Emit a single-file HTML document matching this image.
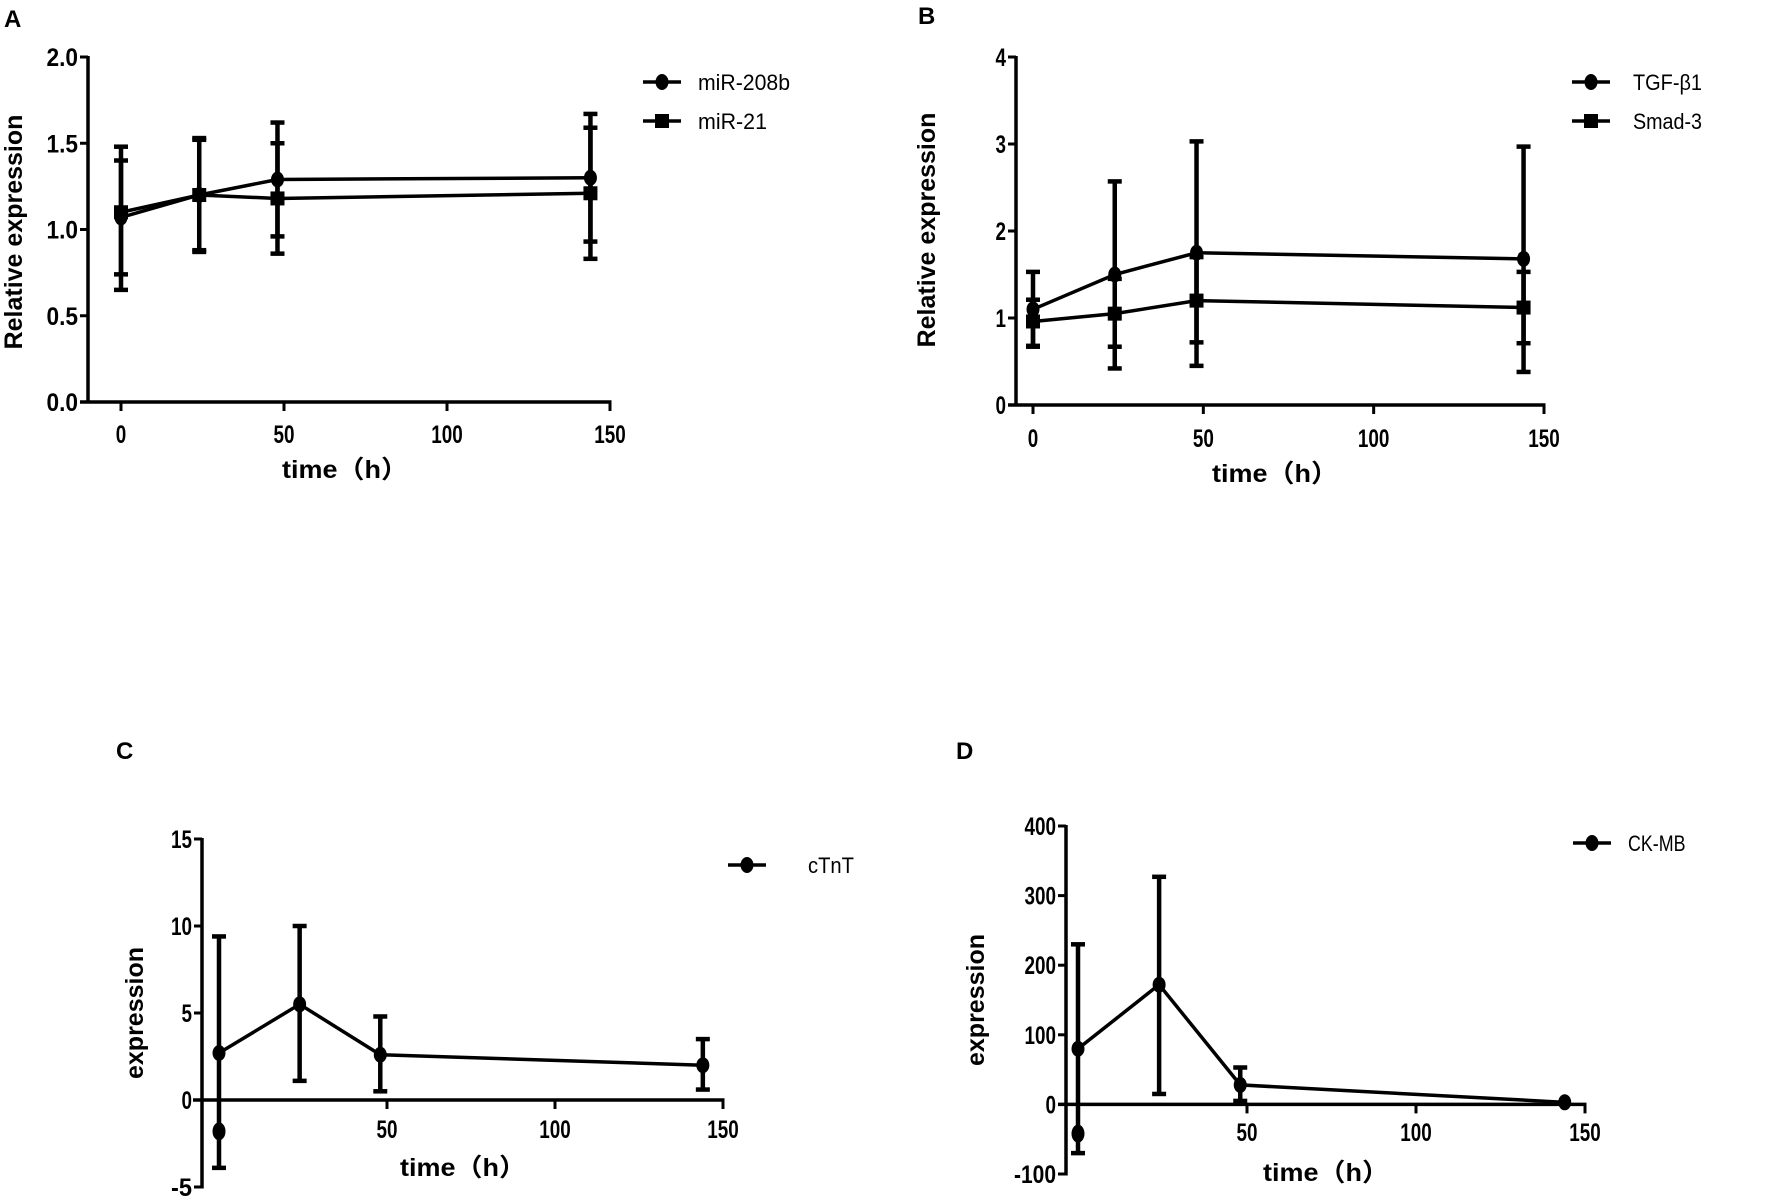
<!DOCTYPE html>
<html><head><meta charset="utf-8"><style>
html,body{margin:0;padding:0;background:#fff;}
svg{display:block;font-family:"Liberation Sans",Arial,sans-serif;}
</style></head><body>
<svg id="fig" width="1772" height="1198" viewBox="0 0 1772 1198"></svg>
<script>
// Panel A data
const timesA = [0, 24, 48, 144];
const mir208b = [1.07, 1.20, 1.29, 1.30];
const mir208bLo = [0.74, 0.88, 0.96, 0.93];
const mir208bHi = [1.40, 1.52, 1.62, 1.67];
const mir21 = [1.10, 1.20, 1.18, 1.21];
const mir21Lo = [0.65, 0.87, 0.86, 0.83];
const mir21Hi = [1.48, 1.53, 1.50, 1.59];
const ticksA = ["0.0","0.5","1.0","1.5","2.0"];
const tickValsA = [0, 0.5, 1.0, 1.5, 2.0];
// Panel B data
const timesB = [0, 24, 48, 144];
const tgfb1 = [1.10, 1.50, 1.75, 1.68];
const tgfb1Lo = [0.67, 0.42, 0.45, 0.38];
const tgfb1Hi = [1.53, 2.57, 3.03, 2.97];
const smad3 = [0.96, 1.05, 1.20, 1.12];
const smad3Lo = [0.68, 0.67, 0.72, 0.71];
const smad3Hi = [1.21, 1.45, 1.70, 1.53];
const tickValsB = [0, 1, 2, 3, 4];
// Panel C data
const timesC = [0, 24, 48, 144];
const ctnt = [2.7, 5.5, 2.6, 2.0];
const ctntLo = [-3.9, 1.1, 0.5, 0.6];
const ctntHi = [9.4, 10.0, 4.8, 3.5];
const ctntExtraX = [0];
const ctntExtraY = [-1.8];
const tickValsC = [-5, 0, 5, 10, 15];
// Panel D data
const timesD = [0, 24, 48, 144];
const ckmb = [80, 172, 28, 3];
const ckmbLo = [-70, 15, 5, 3];
const ckmbHi = [230, 327, 53, 3];
const ckmbExtraX = [0];
const ckmbExtraY = [-42];
const tickValsD = [-100, 0, 100, 200, 300, 400];
const xTickVals = [0, 50, 100, 150];

const NS = "http://www.w3.org/2000/svg";
const svg = document.getElementById("fig");
function mk(tag, attrs, parent) {
  const e = document.createElementNS(NS, tag);
  for (const k in attrs) e.setAttribute(k, attrs[k]);
  (parent || svg).appendChild(e);
  return e;
}
function txt(s, attrs, parent) { const e = mk("text", attrs, parent); e.textContent = s; return e; }

function panel(cfg) {
  const g = mk("g", {});
  
  
  const sx = v => cfg.x0 + (v - 0) * (cfg.x150 - cfg.x0) / 150;
  const sy = v => cfg.yBot + (v - cfg.yMin) * (cfg.yTop - cfg.yBot) / (cfg.yMax - cfg.yMin);
  const L = txt(cfg.letter, {x: cfg.lx, y: cfg.ly, "font-size": 24, "font-weight": "bold"}, g);
  
  
  const ya = mk("line", {x1: cfg.ax, x2: cfg.ax, y1: sy(cfg.yMax) - 1, y2: sy(cfg.yMin) + 1.5, stroke: "#000", "stroke-width": 3.5}, g);
  
  
  cfg.yTicks.forEach((v, i) => {
    const y = sy(v);
    mk("line", {x1: cfg.ax - 8, x2: cfg.ax, y1: y, y2: y, stroke: "#000", "stroke-width": 3}, g);
    const lab = cfg.yLabels ? cfg.yLabels[i] : String(v);
    const t = txt(lab, {x: cfg.ax - 10, y: y + 9, "font-size": 25, "font-weight": "bold", "text-anchor": "end", textLength: lab.length * 10.5, lengthAdjust: "spacingAndGlyphs"}, g);
    
    
  });
  const xy = sy(cfg.xAxisAt);
  const xa = mk("line", {x1: cfg.xaStart, x2: cfg.x150 + 1.5, y1: xy, y2: xy, stroke: "#000", "stroke-width": 3.5}, g);
  
  
  xTickVals.forEach(v => {
    if (cfg.skipZeroX && v === 0) return;
    const x = sx(v);
    mk("line", {x1: x, x2: x, y1: xy, y2: xy + 9, stroke: "#000", "stroke-width": 3}, g);
    const lab = String(v);
    const t = txt(lab, {x: x, y: cfg.xTickY, "font-size": 25, "font-weight": "bold", "text-anchor": "middle", textLength: lab.length * 10.5, lengthAdjust: "spacingAndGlyphs"}, g);
    
    
  });
  const xt = txt("time（h）", {x: cfg.xlx, y: cfg.xly, "font-size": 25, "font-weight": "bold", "text-anchor": "middle", textLength: 126, lengthAdjust: "spacingAndGlyphs", "font-family": "'Liberation Sans','Noto Sans CJK SC',sans-serif"}, g);
  
  
  const yt = txt(cfg.ylabel, {x: 0, y: 0, "font-size": 25, "font-weight": "bold", "text-anchor": "middle", transform: `translate(${cfg.ylx},${cfg.yly}) rotate(-90)`}, g);
  
  
  cfg.series.forEach((s, si) => {
    const sg = mk("g", {}, g);
    
    
    const pts = s.t.map((t, i) => sx(t) + "," + sy(s.v[i])).join(" ");
    mk("polyline", {points: pts, fill: "none", stroke: "#000", "stroke-width": 3.5}, sg);
    s.t.forEach((t, i) => {
      const x = sx(t);
      if (s.hi[i] !== s.v[i] || s.lo[i] !== s.v[i]) {
        const eb = mk("line", {x1: x, x2: x, y1: sy(s.hi[i]), y2: sy(s.lo[i]), stroke: "#000", "stroke-width": 4.5}, sg);
        
        
        [s.hi[i], s.lo[i]].forEach(c => mk("line", {x1: x - 7, x2: x + 7, y1: sy(c), y2: sy(c), stroke: "#000", "stroke-width": 4.5}, sg));
      }
      let m;
      if (s.shape === "square") m = mk("rect", {x: x - 7, y: sy(s.v[i]) - 7, width: 14, height: 14, fill: "#000"}, sg);
      else m = mk("ellipse", {cx: x, cy: sy(s.v[i]), rx: 6.5, ry: 8, fill: "#000"}, sg);
      
      
    });
    if (s.ex) s.ex.forEach((t, i) => {
      const m = mk("ellipse", {cx: sx(t), cy: sy(s.ey[i]), rx: 6.5, ry: 9, fill: "#000"}, sg);
      
      
    });
    const ly = cfg.legY[si];
    const lg = mk("g", {}, g);
    
    
    mk("line", {x1: cfg.legX - 19, x2: cfg.legX + 19, y1: ly, y2: ly, stroke: "#000", "stroke-width": 3.5}, lg);
    if (s.shape === "square") mk("rect", {x: cfg.legX - 7, y: ly - 7, width: 14, height: 14, fill: "#000"}, lg);
    else mk("ellipse", {cx: cfg.legX, cy: ly, rx: 6.5, ry: 8, fill: "#000"}, lg);
    txt(s.label, {x: cfg.legTx, y: ly + 8, "font-size": 22, textLength: s.label.length * 11.5, lengthAdjust: "spacingAndGlyphs"}, lg);
  });
}

panel({name: "panel-a", letter: "A", lx: 4, ly: 27, ax: 88, x0: 121, x150: 610, yMin: 0, yMax: 2, yBot: 402, yTop: 57,
  yTicks: tickValsA, yLabels: ticksA, xAxisAt: 0, xaStart: 80, xTickY: 443, xlx: 345, xly: 478, ylabel: "Relative expression", ylx: 22, yly: 232,
  legX: 662, legTx: 698, legY: [82, 121],
  series: [{label: "miR-208b", shape: "circle", t: timesA, v: mir208b, lo: mir208bLo, hi: mir208bHi},
           {label: "miR-21", shape: "square", t: timesA, v: mir21, lo: mir21Lo, hi: mir21Hi}]});
panel({name: "panel-b", letter: "B", lx: 918, ly: 24, ax: 1016, x0: 1033, x150: 1544, yMin: 0, yMax: 4, yBot: 405, yTop: 57,
  yTicks: tickValsB, xAxisAt: 0, xaStart: 1008, xTickY: 447, xlx: 1275, xly: 482, ylabel: "Relative expression", ylx: 935, yly: 230,
  legX: 1591, legTx: 1633, legY: [82, 121],
  series: [{label: "TGF-β1", shape: "circle", t: timesB, v: tgfb1, lo: tgfb1Lo, hi: tgfb1Hi},
           {label: "Smad-3", shape: "square", t: timesB, v: smad3, lo: smad3Lo, hi: smad3Hi}]});
panel({name: "panel-c", letter: "C", lx: 116, ly: 759, ax: 202, x0: 219, x150: 723, yMin: -5, yMax: 15, yBot: 1187, yTop: 839,
  yTicks: tickValsC, xAxisAt: 0, xaStart: 193, skipZeroX: true, xTickY: 1138, xlx: 463, xly: 1176, ylabel: "expression", ylx: 143, yly: 1013,
  legX: 747, legTx: 808, legY: [865],
  series: [{label: "cTnT", shape: "circle", t: timesC, v: ctnt, lo: ctntLo, hi: ctntHi, ex: ctntExtraX, ey: ctntExtraY}]});
panel({name: "panel-d", letter: "D", lx: 956, ly: 759, ax: 1066, x0: 1078, x150: 1585, yMin: -100, yMax: 400, yBot: 1174, yTop: 826,
  yTicks: tickValsD, xAxisAt: 0, xaStart: 1058, skipZeroX: true, xTickY: 1141, xlx: 1326, xly: 1181, ylabel: "expression", ylx: 984, yly: 1000,
  legX: 1592, legTx: 1628, legY: [843],
  series: [{label: "CK-MB", shape: "circle", t: timesD, v: ckmb, lo: ckmbLo, hi: ckmbHi, ex: ckmbExtraX, ey: ckmbExtraY}]});
</script>
</body></html>
